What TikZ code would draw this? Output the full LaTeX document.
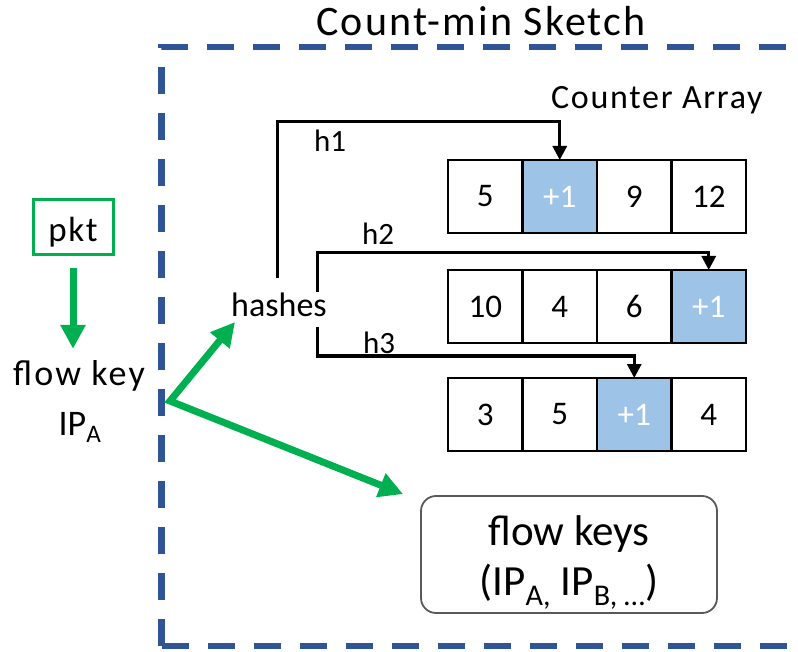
\documentclass[tikz,border=0pt]{standalone}
\usepackage{fontspec}
\setmainfont{Carlito}
\usetikzlibrary{arrows.meta}
\definecolor{frameblue}{HTML}{2F5597}
\definecolor{keygreen}{HTML}{00B050}
\definecolor{hitblue}{HTML}{9DC3E6}
\definecolor{storegray}{HTML}{595959}
\newcommand{\fsz}[1]{\fontsize{#1}{#1}\selectfont}
\begin{document}
\begin{tikzpicture}[x=1pt,y=-1pt,
  cell/.style={draw, line width=2.5pt, minimum width=74.5pt, minimum height=73pt,
    inner sep=0pt, outer sep=0pt, font=\fsz{33}},
  hitcell/.style={cell, fill=hitblue, text=white},
  hashline/.style={line width=3pt, -{Triangle[width=14pt,length=14pt]}},
  hashlabel/.style={anchor=base west, inner sep=0pt, font=\fsz{31}},
  greenarrow/.style={draw=keygreen, line width=7pt, -{Triangle[width=24pt,length=24pt]}},
  sketchframe/.style={draw=frameblue, line width=6.5pt, dash pattern=on 27pt off 19pt},
  plaintext/.style={anchor=base, inner sep=0pt},
]
\useasboundingbox (0,0) rectangle (798,652);

% dashed frame of the sketch (open to the right)
\draw[sketchframe] (161.5,646) -- (161.5,47) -- (830,47);
\draw[sketchframe] (161.5,646) -- (830,646);

\node[plaintext, font=\fsz{42}\addfontfeatures{LetterSpace=5}] (title) at (481,36) {Count-min Sketch};
\node[anchor=base west, inner sep=0pt, font=\fsz{34}\addfontfeatures{LetterSpace=5}] (calabel) at (551,109) {Counter Array};

% counter array rows
\node[cell]    (r1c1) at (485.25,196.5) {5};
\node[hitcell] (r1c2) at (559.75,196.5) {+1};
\node[cell]    (r1c3) at (634.25,196.5) {9};
\node[cell]    (r1c4) at (708.75,196.5) {12};

\node[cell]    (r2c1) at (485.25,306.5) {10};
\node[cell]    (r2c2) at (559.75,306.5) {4};
\node[cell]    (r2c3) at (634.25,306.5) {6};
\node[hitcell] (r2c4) at (708.75,306.5) {+1};

\node[cell]    (r3c1) at (485.25,414.5) {3};
\node[cell]    (r3c2) at (559.75,414.5) {5};
\node[hitcell] (r3c3) at (634.25,414.5) {+1};
\node[cell]    (r3c4) at (708.75,414.5) {4};

% hash functions
\node[plaintext, font=\fsz{34}] (hs) at (279,317) {hashes};
\coordinate (h1s) at (277,278);
\coordinate (h2s) at (317,292);
\coordinate (h3s) at (317,327);
\draw[hashline] (h1s) |- ([yshift=38pt]r1c2.north) -- (r1c2.north);
\draw[hashline] (h2s) |- ([yshift=17pt]r2c4.north) -- (r2c4.north);
\draw[hashline] (h3s) |- ([yshift=22pt]r3c3.north) -- (r3c3.north);
\node[hashlabel] (h1) at (314,152) {h1};
\node[hashlabel] (h2) at (362,245) {h2};
\node[hashlabel] (h3) at (363,353) {h3};

% packet and its flow key
\node[draw=keygreen, line width=3pt, minimum width=80pt, minimum height=55pt, inner sep=0pt,
  text height=29pt, text depth=0pt, font=\fsz{35}\addfontfeatures{LetterSpace=5}] (pkt) at (73,227.5) {pkt};
\node[plaintext, font=\fsz{36}\addfontfeatures{LetterSpace=6}] (fk) at (79,385) {flow key};
\node[plaintext, font=\fsz{36}] (ipa) at (80,435) {IP\textsubscript{A}};
\draw[greenarrow, shorten <=12pt] (pkt.south) -- ([yshift=11pt]pkt.south |- fk.north);

% flow key store
\node[draw=storegray, line width=1.8pt, rounded corners=15pt, minimum width=296pt,
  minimum height=117pt] (fks) at (569,554.5) {};
\node[plaintext, font=\fsz{43}] (fkt1) at (569,545) {flow keys};
\node[plaintext, font=\fsz{43}] (fkt2) at (569,595) {(IP\textsubscript{A,} IP\textsubscript{B, …})};

% the key goes to the hashes and to the store
\coordinate (split) at (170,401);
\draw[keygreen, line width=7pt, {Triangle[width=24pt,length=24pt]}-{Triangle[width=24pt,length=24pt]}]
  ([xshift=4pt,yshift=-5pt]hs.base west) -- (split) -- ([xshift=-17pt,yshift=1pt]fks.north west);
\end{tikzpicture}
\end{document}
